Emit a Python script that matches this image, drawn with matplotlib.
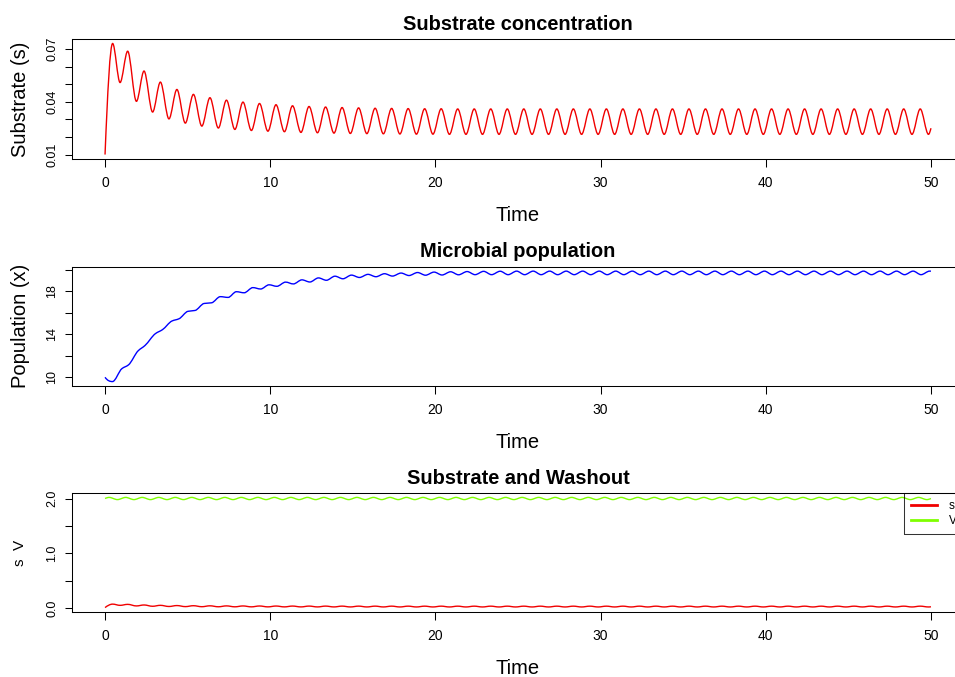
import numpy as np
import matplotlib
matplotlib.use("Agg")
import matplotlib.pyplot as plt
from matplotlib.path import Path
from matplotlib.patches import PathPatch
from matplotlib.lines import Line2D

# ---------------- data ----------------
# Substrate s: extrema nodes (start, alternating peaks / troughs, end)
s_t = [0.00, 0.46, 0.91, 1.37, 1.90, 2.36, 2.88, 3.35, 3.87, 4.35,
       4.86, 5.35, 5.86, 6.35, 6.86, 7.35, 7.86, 8.35, 8.86, 9.35,
       9.86, 10.35, 10.86, 11.35, 11.86, 12.35, 12.86, 13.35, 13.86, 14.35,
       14.85, 15.35, 15.85, 16.35, 16.85, 17.35, 17.85, 18.35, 18.85, 19.35,
       19.85, 20.35, 20.85, 21.35, 21.85, 22.35, 22.85, 23.35, 23.85, 24.35,
       24.85, 25.35, 25.85, 26.35, 26.85, 27.35, 27.85, 28.35, 28.85, 29.35,
       29.85, 30.35, 30.85, 31.35, 31.85, 32.35, 32.85, 33.35, 33.85, 34.35,
       34.85, 35.35, 35.85, 36.35, 36.85, 37.35, 37.85, 38.35, 38.85, 39.35,
       39.85, 40.35, 40.85, 41.35, 41.85, 42.35, 42.85, 43.35, 43.85, 44.35,
       44.85, 45.35, 45.85, 46.35, 46.85, 47.35, 47.85, 48.35, 48.85, 49.35,
       49.85, 50.00]
s_v = [0.0100, 0.0733, 0.0510, 0.0689, 0.0403, 0.0576, 0.0342, 0.0513, 0.0303, 0.0471,
       0.0279, 0.0443, 0.0262, 0.0424, 0.0251, 0.0410, 0.0243, 0.0399, 0.0237, 0.0391,
       0.0233, 0.0384, 0.0230, 0.0378, 0.0226, 0.0374, 0.0224, 0.0371, 0.0222, 0.0368,
       0.0220, 0.0366, 0.0219, 0.0364, 0.0218, 0.0363, 0.0217, 0.0362, 0.0216, 0.0361,
       0.0216, 0.0361, 0.0215, 0.0360, 0.0215, 0.0360, 0.0215, 0.0360, 0.0215, 0.0360,
       0.0215, 0.0360, 0.0215, 0.0360, 0.0215, 0.0360, 0.0215, 0.0360, 0.0215, 0.0360,
       0.0215, 0.0360, 0.0215, 0.0360, 0.0215, 0.0360, 0.0215, 0.0360, 0.0215, 0.0360,
       0.0215, 0.0360, 0.0215, 0.0360, 0.0215, 0.0360, 0.0215, 0.0360, 0.0215, 0.0360,
       0.0215, 0.0360, 0.0215, 0.0360, 0.0215, 0.0360, 0.0215, 0.0360, 0.0215, 0.0360,
       0.0215, 0.0360, 0.0215, 0.0360, 0.0215, 0.0360, 0.0215, 0.0360, 0.0215, 0.0360,
       0.0215, 0.0250]

# Microbial population x: nodes (start, alternating low / high shoulders, end)
x_t = [0.00, 0.45, 1.02, 1.42, 2.00, 2.42, 3.05, 3.48, 4.05, 4.48,
       5.02, 5.45, 6.00, 6.45, 6.98, 7.45, 7.95, 8.42, 8.95, 9.42,
       9.93, 10.40, 10.93, 11.40, 11.92, 12.40, 12.92, 13.40, 13.92, 14.40,
       14.92, 15.40, 15.92, 16.40, 16.92, 17.40, 17.92, 18.40, 18.92, 19.40,
       19.92, 20.40, 20.92, 21.40, 21.92, 22.40, 22.92, 23.40, 23.92, 24.40,
       24.92, 25.40, 25.92, 26.40, 26.92, 27.40, 27.92, 28.40, 28.92, 29.40,
       29.92, 30.40, 30.92, 31.40, 31.92, 32.40, 32.92, 33.40, 33.92, 34.40,
       34.92, 35.40, 35.92, 36.40, 36.92, 37.40, 37.92, 38.40, 38.92, 39.40,
       39.92, 40.40, 40.92, 41.40, 41.92, 42.40, 42.92, 43.40, 43.92, 44.40,
       44.92, 45.40, 45.92, 46.40, 46.92, 47.40, 47.92, 48.40, 48.92, 49.40,
       49.92, 50.00]
x_v = [10.00, 9.60, 10.80, 11.15, 12.45, 12.95, 14.05, 14.42, 15.22, 15.43,
       16.12, 16.20, 16.85, 16.91, 17.48, 17.41, 17.94, 17.84, 18.32, 18.19,
       18.58, 18.44, 18.83, 18.66, 19.04, 18.84, 19.22, 19.00, 19.38, 19.14,
       19.48, 19.26, 19.55, 19.33, 19.61, 19.39, 19.67, 19.44, 19.72, 19.47,
       19.76, 19.49, 19.79, 19.51, 19.81, 19.52, 19.83, 19.52, 19.84, 19.52,
       19.85, 19.52, 19.85, 19.52, 19.85, 19.52, 19.85, 19.52, 19.85, 19.52,
       19.85, 19.52, 19.85, 19.52, 19.85, 19.52, 19.85, 19.52, 19.85, 19.52,
       19.85, 19.52, 19.85, 19.52, 19.85, 19.52, 19.85, 19.52, 19.85, 19.52,
       19.85, 19.52, 19.85, 19.52, 19.85, 19.52, 19.85, 19.52, 19.85, 19.52,
       19.85, 19.52, 19.85, 19.52, 19.85, 19.52, 19.85, 19.52, 19.85, 19.52,
       19.85, 19.84]

# Washout V: nodes (start, alternating peaks / troughs, end)
V_t = [0.00, 0.25, 0.75, 1.25, 1.75, 2.25, 2.75, 3.25, 3.75, 4.25,
       4.75, 5.25, 5.75, 6.25, 6.75, 7.25, 7.75, 8.25, 8.75, 9.25,
       9.75, 10.25, 10.75, 11.25, 11.75, 12.25, 12.75, 13.25, 13.75, 14.25,
       14.75, 15.25, 15.75, 16.25, 16.75, 17.25, 17.75, 18.25, 18.75, 19.25,
       19.75, 20.25, 20.75, 21.25, 21.75, 22.25, 22.75, 23.25, 23.75, 24.25,
       24.75, 25.25, 25.75, 26.25, 26.75, 27.25, 27.75, 28.25, 28.75, 29.25,
       29.75, 30.25, 30.75, 31.25, 31.75, 32.25, 32.75, 33.25, 33.75, 34.25,
       34.75, 35.25, 35.75, 36.25, 36.75, 37.25, 37.75, 38.25, 38.75, 39.25,
       39.75, 40.25, 40.75, 41.25, 41.75, 42.25, 42.75, 43.25, 43.75, 44.25,
       44.75, 45.25, 45.75, 46.25, 46.75, 47.25, 47.75, 48.25, 48.75, 49.25,
       49.75, 50.00]
V_v = [2.00, 2.02, 1.98, 2.02, 1.98, 2.02, 1.98, 2.02, 1.98, 2.02,
       1.98, 2.02, 1.98, 2.02, 1.98, 2.02, 1.98, 2.02, 1.98, 2.02,
       1.98, 2.02, 1.98, 2.02, 1.98, 2.02, 1.98, 2.02, 1.98, 2.02,
       1.98, 2.02, 1.98, 2.02, 1.98, 2.02, 1.98, 2.02, 1.98, 2.02,
       1.98, 2.02, 1.98, 2.02, 1.98, 2.02, 1.98, 2.02, 1.98, 2.02,
       1.98, 2.02, 1.98, 2.02, 1.98, 2.02, 1.98, 2.02, 1.98, 2.02,
       1.98, 2.02, 1.98, 2.02, 1.98, 2.02, 1.98, 2.02, 1.98, 2.02,
       1.98, 2.02, 1.98, 2.02, 1.98, 2.02, 1.98, 2.02, 1.98, 2.02,
       1.98, 2.02, 1.98, 2.02, 1.98, 2.02, 1.98, 2.02, 1.98, 2.02,
       1.98, 2.02, 1.98, 2.02, 1.98, 2.02, 1.98, 2.02, 1.98, 2.02,
       1.98, 2.00]

x_ticks = [0, 10, 20, 30, 40, 50]
x_ticklabels = ["0", "10", "20", "30", "40", "50"]
s_yticks = [0.01, 0.02, 0.03, 0.04, 0.05, 0.06, 0.07]
s_yticklabels = ["0.01", "", "", "0.04", "", "", "0.07"]
x_yticks = [10, 12, 14, 16, 18, 20]
x_yticklabels = ["10", "", "14", "", "18", ""]
sv_yticks = [0.0, 0.5, 1.0, 1.5, 2.0]
sv_yticklabels = ["0.0", "", "1.0", "", "2.0"]

titles = ["Substrate concentration", "Microbial population", "Substrate and Washout"]
ylabels = ["Substrate (s)", "Population (x)", "s  V"]
xlabel = "Time"
legend_labels = ["s", "V"]

RED = "#F00000"
BLUE = "#0000FF"
GREEN = "#7FFF00"

# ---------------- drawing ----------------
plt.rcParams['font.family'] = ['Liberation Sans', 'DejaVu Sans']
W, H = 955, 677
fig = plt.figure(figsize=(W / 100, H / 100), dpi=100)


def pchip_slopes(t, y):
    t = np.asarray(t, float)
    y = np.asarray(y, float)
    h = np.diff(t)
    d = np.diff(y) / h
    n = len(t)
    m = np.zeros(n)
    for k in range(1, n - 1):
        if d[k - 1] * d[k] <= 0:
            m[k] = 0.0
        else:
            w1 = 2 * h[k] + h[k - 1]
            w2 = h[k] + 2 * h[k - 1]
            m[k] = (w1 + w2) / (w1 / d[k - 1] + w2 / d[k])

    def end(h0, h1, d0, d1):
        mm = ((2 * h0 + h1) * d0 - h0 * d1) / (h0 + h1)
        if np.sign(mm) != np.sign(d0):
            mm = 0.0
        elif np.sign(d0) != np.sign(d1) and abs(mm) > abs(3 * d0):
            mm = 3 * d0
        return mm

    m[0] = end(h[0], h[1], d[0], d[1])
    m[-1] = end(h[-1], h[-2], d[-1], d[-2])
    return m


def add_curve(ax, t, y, color, lw=1.0):
    t = np.asarray(t, float)
    y = np.asarray(y, float)
    m = pchip_slopes(t, y)
    verts = [(t[0], y[0])]
    codes = [Path.MOVETO]
    for i in range(len(t) - 1):
        h = t[i + 1] - t[i]
        verts += [(t[i] + h / 3, y[i] + m[i] * h / 3),
                  (t[i + 1] - h / 3, y[i + 1] - m[i + 1] * h / 3),
                  (t[i + 1], y[i + 1])]
        codes += [Path.CURVE4] * 3
    ax.add_patch(PathPatch(Path(verts, codes), fill=False, edgecolor=color,
                           lw=lw, joinstyle='round', capstyle='butt'))


def r_lim(*arrs):
    lo = min(np.min(a) for a in arrs)
    hi = max(np.max(a) for a in arrs)
    pad = 0.04 * (hi - lo)
    return lo - pad, hi + pad


def px_axes(top, bottom, left=72, right=964):
    return fig.add_axes([left / W, 1 - bottom / H, (right - left) / W, (bottom - top) / H])


panels = [(39, 159), (266.7, 386), (493, 612)]
axes = [px_axes(t, b) for t, b in panels]

for ax in axes:
    for sp in ax.spines.values():
        sp.set_color("black")
        sp.set_linewidth(0.75)
    ax.set_xlim(r_lim(s_t))
    ax.set_xticks(x_ticks)
    ax.set_xticklabels(x_ticklabels)
    ax.tick_params(axis='both', direction='out', length=5.4, width=0.75, color='black')
    ax.tick_params(axis='x', labelsize=10, pad=7)
    ax.tick_params(axis='y', labelsize=9, pad=4.5)

ax1, ax2, ax3 = axes
add_curve(ax1, s_t, s_v, RED)
ax1.set_ylim(r_lim(s_v))
ax1.set_yticks(s_yticks)
ax1.set_yticklabels(s_yticklabels, rotation=90, va='center')

add_curve(ax2, x_t, x_v, BLUE)
ax2.set_ylim(r_lim(x_v))
ax2.set_yticks(x_yticks)
ax2.set_yticklabels(x_yticklabels, rotation=90, va='center')

add_curve(ax3, s_t, s_v, RED)
add_curve(ax3, V_t, V_v, GREEN)
ax3.set_ylim(r_lim(s_v, V_v))
ax3.set_yticks(sv_yticks)
ax3.set_yticklabels(sv_yticklabels, rotation=90, va='center')

handles = [Line2D([], [], color=RED, lw=2), Line2D([], [], color=GREEN, lw=2)]
leg = ax3.legend(handles, legend_labels, loc='upper right', bbox_to_anchor=(1, 1),
                 borderaxespad=0, frameon=True, fancybox=False, fontsize=8.5,
                 handlelength=2.2, handletextpad=1.0, labelspacing=0.25, borderpad=0.6)
leg.get_frame().set_edgecolor('black')
leg.get_frame().set_facecolor('none')
leg.get_frame().set_linewidth(0.75)

# texts
cx = (72 + 964) / 2
for (top, bottom), title, ylab in zip(panels, titles, ylabels):
    fig.text(cx / W, 1 - (top - 9.5) / H, title, ha='center', va='baseline',
             fontsize=14.4, fontweight='bold')
    fig.text(cx / W, 1 - (bottom + 62) / H, xlabel, ha='center', va='baseline', fontsize=14.5)
    fs = 14.5 if ylab != "s  V" else 11
    fig.text(20 / W, 1 - ((top + bottom) / 2) / H, ylab, ha='center', va='center',
             rotation=90, fontsize=fs)

fig.savefig("out.png", dpi=100)
